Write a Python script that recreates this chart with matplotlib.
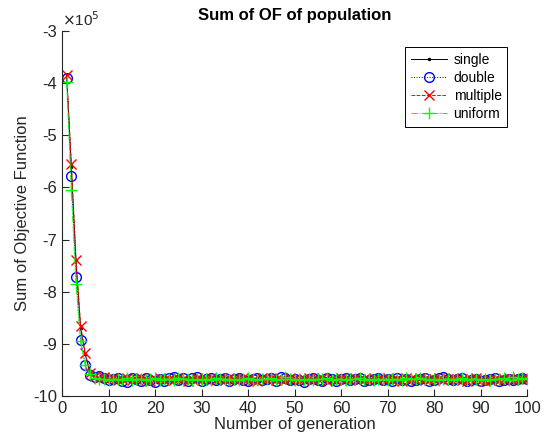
import numpy as np
import matplotlib.pyplot as plt

plt.rcParams['font.family'] = ['Liberation Sans', 'DejaVu Sans']
plt.rcParams['axes.unicode_minus'] = False

# values in units of 1e5
generation = list(range(1, 101))

single = [
    -3.85, -5.60, -7.40, -8.70, -9.20, -9.55, -9.62, -9.65, -9.66, -9.67,
    -9.66, -9.68, -9.67, -9.69, -9.68, -9.67, -9.68, -9.69, -9.68, -9.70,
    -9.69, -9.68, -9.70, -9.67, -9.66, -9.68, -9.67, -9.69, -9.66, -9.68,
    -9.67, -9.68, -9.66, -9.67, -9.68, -9.67, -9.69, -9.68, -9.67, -9.66,
    -9.68, -9.67, -9.69, -9.68, -9.67, -9.66, -9.67, -9.65, -9.67, -9.68,
    -9.67, -9.68, -9.69, -9.68, -9.67, -9.68, -9.66, -9.67, -9.68, -9.67,
    -9.66, -9.68, -9.67, -9.69, -9.68, -9.67, -9.68, -9.66, -9.67, -9.68,
    -9.67, -9.66, -9.68, -9.67, -9.66, -9.68, -9.67, -9.66, -9.67, -9.68,
    -9.66, -9.67, -9.68, -9.67, -9.69, -9.68, -9.67, -9.68, -9.69, -9.68,
    -9.67, -9.68, -9.69, -9.67, -9.66, -9.67, -9.65, -9.66, -9.67, -9.67]

double = [
    -3.90, -5.78, -7.72, -8.93, -9.40, -9.60, -9.63, -9.62, -9.66, -9.70,
    -9.68, -9.65, -9.71, -9.73, -9.66, -9.67, -9.72, -9.66, -9.70, -9.73,
    -9.68, -9.72, -9.66, -9.64, -9.69, -9.66, -9.71, -9.65, -9.63, -9.72,
    -9.68, -9.66, -9.70, -9.67, -9.65, -9.71, -9.68, -9.66, -9.69, -9.72,
    -9.67, -9.65, -9.70, -9.68, -9.66, -9.71, -9.64, -9.66, -9.69, -9.67,
    -9.70, -9.73, -9.67, -9.65, -9.69, -9.71, -9.66, -9.68, -9.72, -9.67,
    -9.65, -9.70, -9.68, -9.66, -9.71, -9.69, -9.67, -9.65, -9.70, -9.68,
    -9.72, -9.66, -9.69, -9.67, -9.71, -9.70, -9.68, -9.66, -9.72, -9.69,
    -9.65, -9.63, -9.67, -9.70, -9.68, -9.66, -9.71, -9.69, -9.67, -9.72,
    -9.70, -9.68, -9.66, -9.71, -9.69, -9.67, -9.70, -9.68, -9.66, -9.67]

multiple = [
    -3.85, -5.55, -7.40, -8.65, -9.18, -9.55, -9.62, -9.66, -9.64, -9.68,
    -9.66, -9.69, -9.67, -9.65, -9.70, -9.68, -9.66, -9.69, -9.71, -9.67,
    -9.65, -9.69, -9.68, -9.70, -9.66, -9.68, -9.71, -9.67, -9.65, -9.69,
    -9.68, -9.66, -9.70, -9.67, -9.69, -9.65, -9.68, -9.70, -9.66, -9.67,
    -9.69, -9.71, -9.66, -9.68, -9.65, -9.70, -9.67, -9.69, -9.66, -9.68,
    -9.70, -9.67, -9.65, -9.69, -9.68, -9.66, -9.71, -9.67, -9.69, -9.65,
    -9.68, -9.70, -9.66, -9.68, -9.67, -9.69, -9.65, -9.70, -9.68, -9.66,
    -9.69, -9.67, -9.71, -9.66, -9.68, -9.70, -9.65, -9.67, -9.69, -9.68,
    -9.66, -9.70, -9.68, -9.65, -9.67, -9.69, -9.71, -9.68, -9.66, -9.70,
    -9.72, -9.69, -9.67, -9.70, -9.68, -9.66, -9.69, -9.67, -9.68, -9.66]

uniform = [
    -3.98, -6.05, -7.85, -8.95, -9.40, -9.58, -9.66, -9.68, -9.67, -9.69,
    -9.67, -9.68, -9.70, -9.66, -9.69, -9.68, -9.67, -9.70, -9.68, -9.66,
    -9.69, -9.67, -9.68, -9.70, -9.66, -9.68, -9.67, -9.69, -9.68, -9.70,
    -9.67, -9.69, -9.66, -9.68, -9.67, -9.69, -9.68, -9.70, -9.67, -9.66,
    -9.68, -9.69, -9.67, -9.68, -9.66, -9.69, -9.68, -9.64, -9.67, -9.69,
    -9.68, -9.70, -9.67, -9.69, -9.68, -9.67, -9.66, -9.69, -9.68, -9.67,
    -9.69, -9.67, -9.68, -9.66, -9.70, -9.68, -9.69, -9.67, -9.68, -9.70,
    -9.67, -9.68, -9.69, -9.66, -9.68, -9.67, -9.65, -9.68, -9.69, -9.67,
    -9.70, -9.68, -9.67, -9.69, -9.68, -9.66, -9.69, -9.68, -9.67, -9.69,
    -9.68, -9.70, -9.67, -9.68, -9.66, -9.69, -9.64, -9.67, -9.66, -9.68]

fig = plt.figure(figsize=(5.44, 4.48), dpi=100)
ax = fig.add_axes([0.114, 0.116, 0.855, 0.815])

lw = 0.7
ax.plot(generation, single, '-', color='black', marker='.', markersize=3, lw=lw, label='single')
ax.plot(generation, double, ':', color='blue', marker='o', markersize=7, mfc='none', lw=lw, label='double')
ax.plot(generation, multiple, '--', color='red', marker='x', markersize=7, lw=lw, label='multiple')
ax.plot(generation, uniform, '-.', color='#00ff00', marker='+', markersize=8, lw=lw, label='uniform')

ax.set_xlim(0, 100)
ax.set_ylim(-10, -3)
ax.set_xticks(range(0, 101, 10))
ax.set_yticks(range(-10, -2))

for s in ['top', 'right']:
    ax.spines[s].set_visible(False)
for s in ['left', 'bottom']:
    ax.spines[s].set_linewidth(0.8)
    ax.spines[s].set_color('#262626')
ax.tick_params(direction='in', length=5, width=0.8, labelsize=12, colors='#262626')

ax.set_xlabel('Number of generation', fontsize=12, color='#262626', labelpad=1)
ax.set_ylabel('Sum of Objective Function', fontsize=12, color='#262626', labelpad=2)
ax.set_title('Sum of OF of population', fontsize=12, fontweight='bold', pad=8)
ax.text(0.0, 1.005, r'$\times$10$^5$', transform=ax.transAxes, fontsize=11,
        color='#262626', ha='left', va='bottom')

leg = ax.legend(loc='upper right', bbox_to_anchor=(0.972, 0.975), fontsize=10,
                fancybox=False, edgecolor='black', framealpha=1,
                handlelength=2.6, borderpad=0.4, labelspacing=0.3, handletextpad=0.5)
leg.get_frame().set_linewidth(0.7)

fig.savefig('out.png', dpi=100)
